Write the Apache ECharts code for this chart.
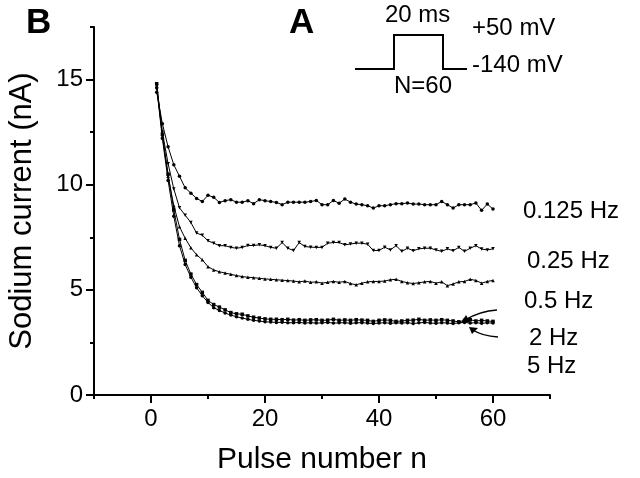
<!DOCTYPE html>
<html>
<head>
<meta charset="utf-8">
<script src="https://cdn.jsdelivr.net/npm/echarts@6/dist/echarts.min.js"></script>
<style>
  html, body { margin: 0; padding: 0; background: #fff; }
  #main { width: 640px; height: 478px; }
</style>
</head>
<body>
<div id="main"></div>
<script>
// pulse number n = 1..60
var hz0125 = [14.4, 12.9, 11.8, 10.95, 10.4, 9.85, 9.6, 9.35, 9.2, 9.5, 9.4, 9.16, 9.24, 9.29, 9.17, 9.17, 9.24, 9.1, 9.29, 9.24,
  9.2, 9.16, 9.05, 9.17, 9.17, 9.17, 9.17, 9.2, 9.25, 9.05, 9.05, 9.25, 9.12, 9.32, 9.17, 9.08, 9.05, 9.0, 8.89, 9.0,
  9.0, 9.05, 9.1, 9.1, 9.13, 9.08, 9.08, 9.05, 9.05, 9.05, 9.2, 9.05, 8.89, 9.05, 9.05, 9.05, 9.13, 8.78, 9.08, 8.84];
var hz025 = [14.7, 12.5, 11.0, 9.8, 8.9, 8.55, 8.2, 7.7, 7.6, 7.33, 7.22, 7.1, 7.1, 7.02, 6.98, 7.02, 7.11, 7.11, 7.14, 7.1,
  7.02, 6.98, 7.25, 6.98, 6.87, 7.25, 7.06, 7.03, 7.02, 7.02, 7.22, 7.25, 7.25, 7.14, 7.18, 7.22, 7.22, 7.17, 6.87, 6.87,
  7.03, 6.9, 7.1, 6.83, 6.98, 6.86, 6.95, 6.98, 6.98, 6.9, 6.83, 6.95, 6.86, 7.02, 6.83, 6.98, 7.1, 6.94, 6.9, 6.95];
var hz05 = [14.7, 12.3, 10.4, 9.0, 8.0, 7.45, 7.0, 6.67, 6.43, 6.1, 5.95, 5.86, 5.8, 5.74, 5.68, 5.63, 5.6, 5.58, 5.55, 5.52,
  5.5, 5.48, 5.46, 5.44, 5.42, 5.38, 5.42, 5.36, 5.38, 5.32, 5.36, 5.4, 5.36, 5.4, 5.3, 5.24, 5.32, 5.38, 5.4, 5.4,
  5.42, 5.48, 5.5, 5.4, 5.34, 5.3, 5.34, 5.38, 5.4, 5.32, 5.38, 5.2, 5.28, 5.38, 5.4, 5.5, 5.45, 5.32, 5.4, 5.45];
var hz2 = [14.8, 12.4, 10.5, 8.8, 7.4, 6.4, 5.75, 5.25, 4.88, 4.5, 4.3, 4.18, 4.05, 3.92, 3.86, 3.84, 3.76, 3.7, 3.66, 3.62,
  3.6, 3.6, 3.58, 3.6, 3.56, 3.58, 3.55, 3.57, 3.58, 3.55, 3.56, 3.6, 3.55, 3.57, 3.55, 3.58, 3.56, 3.55, 3.5, 3.55,
  3.57, 3.55, 3.5, 3.52, 3.55, 3.56, 3.6, 3.55, 3.57, 3.55, 3.58, 3.55, 3.52, 3.48, 3.55, 3.58, 3.52, 3.55, 3.52, 3.5];
var hz5 = [14.6, 12.2, 10.2, 8.5, 7.1, 6.2, 5.6, 5.1, 4.72, 4.4, 4.15, 4.02, 3.9, 3.8, 3.72, 3.66, 3.6, 3.55, 3.52, 3.48,
  3.47, 3.45, 3.46, 3.44, 3.43, 3.45, 3.42, 3.44, 3.42, 3.43, 3.45, 3.42, 3.43, 3.44, 3.41, 3.43, 3.44, 3.42, 3.4, 3.42,
  3.44, 3.41, 3.43, 3.42, 3.44, 3.4, 3.43, 3.45, 3.42, 3.41, 3.44, 3.42, 3.4, 3.43, 3.45, 3.42, 3.44, 3.41, 3.43, 3.42];

var xMajor = [0, 20, 40, 60];
var xMinor = [-10, 10, 30, 50, 70];
var yMajor = [0, 5, 10, 15];
var yMinor = [2.5, 7.5, 12.5, 17.5];

var FONT = 'Liberation Sans, Arial, sans-serif';

function pairs(arr) {
    return arr.map(function (v, i) { return [i + 1, v]; });
}

function line(name, arr, symbol, rot) {
    return {
        name: name,
        type: 'line',
        data: pairs(arr),
        symbol: symbol,
        symbolSize: 3.5,
        symbolRotate: rot || 0,
        showSymbol: true,
        lineStyle: { color: '#000', width: 1 },
        itemStyle: { color: '#000' },
        animation: false
    };
}

function label(txt, x, y, size, bold) {
    return {
        type: 'text', left: x, top: y,
        style: { text: txt, font: (bold ? 'bold ' : '') + size + 'px ' + FONT, fill: '#000' }
    };
}

var axisLine = { show: true, onZero: false, lineStyle: { color: '#000', width: 2 } };

var chart = echarts.init(document.getElementById('main'));
chart.setOption({
    backgroundColor: '#fff',
    animation: false,
    grid: { left: 94, right: 90, top: 27, bottom: 83, containLabel: false, outerBoundsMode: 'none' },
    xAxis: [
        {
            type: 'value', min: -10, max: 70, position: 'bottom',
            axisLine: axisLine,
            axisTick: { show: true, customValues: xMajor, length: 8, lineStyle: { color: '#000', width: 2 } },
            axisLabel: { customValues: xMajor, color: '#000', fontSize: 24, fontFamily: FONT, margin: 12 },
            splitLine: { show: false },
            name: 'Pulse number n', nameLocation: 'middle', nameGap: 50,
            nameTextStyle: { color: '#000', fontSize: 30, fontFamily: FONT }
        },
        {
            type: 'value', min: -10, max: 70, position: 'bottom',
            axisLine: { show: false, onZero: false },
            axisTick: { show: true, customValues: xMinor, length: 4, lineStyle: { color: '#000', width: 2 } },
            axisLabel: { show: false },
            splitLine: { show: false }
        }
    ],
    yAxis: [
        {
            type: 'value', min: 0, max: 17.5, position: 'left',
            axisLine: axisLine,
            axisTick: { show: true, customValues: yMajor, length: 8, lineStyle: { color: '#000', width: 2 } },
            axisLabel: { customValues: yMajor, color: '#000', fontSize: 24, fontFamily: FONT, margin: 11 },
            splitLine: { show: false },
            name: 'Sodium current (nA)', nameLocation: 'middle', nameGap: 56,
            nameTextStyle: { color: '#000', fontSize: 31, fontFamily: FONT }
        },
        {
            type: 'value', min: 0, max: 17.5, position: 'left',
            axisLine: { show: false, onZero: false },
            axisTick: { show: true, customValues: yMinor, length: 4, lineStyle: { color: '#000', width: 2 } },
            axisLabel: { show: false },
            splitLine: { show: false }
        }
    ],
    series: [
        line('0.125 Hz', hz0125, 'circle'),
        line('0.25 Hz', hz025, 'triangle', 180),
        line('0.5 Hz', hz05, 'triangle'),
        line('2 Hz', hz2, 'rect'),
        line('5 Hz', hz5, 'circle')
    ],
    graphic: [
        label('B', 26, 6, 35, true),
        label('A', 289, 6, 35, true),
        label('20 ms', 385, 3, 24),
        label('+50 mV', 472, 16, 24),
        label('-140 mV', 472, 53, 24),
        label('N=60', 394, 74, 24),
        {
            type: 'polyline',
            shape: { points: [[355, 69], [394, 69], [394, 35], [443, 35], [443, 69], [467, 69]] },
            style: { stroke: '#000', lineWidth: 2, fill: null }
        },
        label('0.125 Hz', 523, 199, 24),
        label('0.25 Hz', 527, 249, 24),
        label('0.5 Hz', 524, 289, 24),
        label('2 Hz', 529, 326, 24),
        label('5 Hz', 527, 354, 24),
        {
            type: 'bezierCurve',
            shape: { x1: 497, y1: 310, cpx1: 480, cpy1: 311, x2: 465, y2: 320 },
            style: { stroke: '#000', lineWidth: 1.5, fill: null }
        },
        {
            type: 'polygon',
            shape: { points: [[461, 323], [466, 315], [470, 322]] },
            style: { fill: '#000' }
        },
        {
            type: 'bezierCurve',
            shape: { x1: 498, y1: 337, cpx1: 482, cpy1: 336, x2: 473, y2: 330 },
            style: { stroke: '#000', lineWidth: 1.5, fill: null }
        },
        {
            type: 'polygon',
            shape: { points: [[469, 327], [478, 328], [472, 334]] },
            style: { fill: '#000' }
        }
    ]
});
</script>
</body>
</html>
